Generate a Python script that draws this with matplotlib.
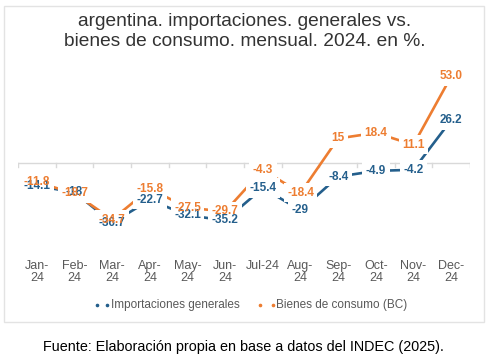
import numpy as np
import matplotlib.pyplot as plt
from matplotlib.patches import Rectangle
from matplotlib.lines import Line2D

plt.rcParams['font.family'] = ['Liberation Sans', 'DejaVu Sans']

meses = ["Jan-\n24", "Feb-\n24", "Mar-\n24", "Apr-\n24", "May-\n24", "Jun-\n24",
         "Jul-24", "Aug-\n24", "Sep-\n24", "Oct-\n24", "Nov-\n24", "Dec-\n24"]
importaciones = [-14.1, -18, -36.7, -22.7, -32.1, -35.2, -15.4, -29, -8.4, -4.9, -4.2, 26.2]
bienes_consumo = [-11.8, -18.7, -34.7, -15.8, -27.5, -29.7, -4.3, -18.4, 15, 18.4, 11.1, 53.0]
etiq_imp = ["-14.1", "-18", "-36.7", "-22.7", "-32.1", "-35.2", "-15.4", "-29", "-8.4", "-4.9", "-4.2", "26.2"]
etiq_bc = ["-11.8", "-18.7", "-34.7", "-15.8", "-27.5", "-29.7", "-4.3", "-18.4", "15", "18.4", "11.1", "53.0"]

azul = "#245f8c"
naranja = "#ed7d31"
gris = "#595959"

W, H = 490, 359
fig = plt.figure(figsize=(4.9, 3.59), dpi=100)

# marco del grafico
fig.add_artist(Rectangle((4 / W, (H - 322) / H), 480 / W, 316 / H, transform=fig.transFigure,
                         fill=False, edgecolor="#e3e3e3", lw=1))

ax = fig.add_axes([18 / W, (H - 244.5) / H, 452 / W, 179.5 / H])
x = np.arange(len(meses))
ax.set_xlim(-0.5, 11.5)
ax.set_ylim(-50, 60)
for s in ax.spines.values():
    s.set_visible(False)
ax.set_yticks([])

# eje en cero con marcas
ax.axhline(0, color="#d9d9d9", lw=1, zorder=1)
for b in np.arange(-0.5, 12, 1):
    ax.plot([b, b], [0, -2.5], color="#d9d9d9", lw=1, zorder=1)

ax.plot(x, importaciones, color=azul, lw=1.9, zorder=2)
ax.plot(x, bienes_consumo, color=naranja, lw=1.9, zorder=2)

# fondo blanco de etiquetas y luego el texto encima
for serie, etiq, c in [(importaciones, etiq_imp, azul), (bienes_consumo, etiq_bc, naranja)]:
    for xi, yi, t in zip(x, serie, etiq):
        ax.text(xi, yi, t, ha="center", va="center", fontsize=8.5, fontweight="bold",
                color="none", zorder=3,
                bbox=dict(boxstyle="square,pad=0.3", fc="white", ec="none"))
for serie, etiq, c in [(importaciones, etiq_imp, azul), (bienes_consumo, etiq_bc, naranja)]:
    for xi, yi, t in zip(x, serie, etiq):
        ax.text(xi, yi, t, ha="center", va="center", fontsize=8.5, fontweight="bold",
                color=c, zorder=4)

ax.set_xticks(x)
ax.set_xticklabels(meses, fontsize=9, color=gris, linespacing=1.0)
ax.tick_params(axis="x", length=0, pad=11)

# titulo
fig.text(245 / W, 1 - 31.5 / H, "argentina. importaciones. generales vs.\nbienes de consumo. mensual. 2024. en %.",
         ha="center", va="center", fontsize=13.8, color="#333333", linespacing=1.3)

# leyenda
ly = 1 - 305 / H
for px, c in [(97, azul), (107, azul), (260, naranja), (273, naranja)]:
    fig.add_artist(Line2D([px / W], [ly], marker="o", markersize=1.6, color=c,
                          linestyle="none", transform=fig.transFigure))
fig.text(111 / W, ly, "Importaciones generales", ha="left", va="center", fontsize=8.5, color=gris)
fig.text(276 / W, ly, "Bienes de consumo (BC)", ha="left", va="center", fontsize=8.5, color=gris)

# fuente
fig.text(243 / W, 1 - 347 / H, "Fuente: Elaboración propia en base a datos del INDEC (2025).",
         ha="center", va="center", fontsize=10.4, color="black")

fig.savefig("out.png", dpi=100)
